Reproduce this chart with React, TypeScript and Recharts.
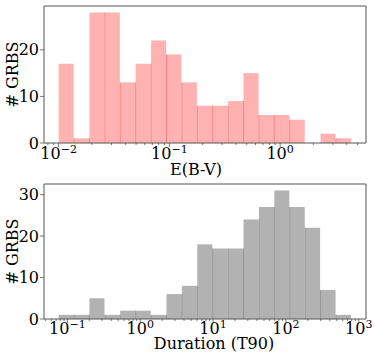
import { ComposedChart, Bar, XAxis, YAxis, Label, ReferenceLine } from "recharts";

// histogram bin edges (log spaced) and counts
const EBV_EDGES = [
  0.01, 0.0138, 0.019, 0.0262, 0.036, 0.0496, 0.0684, 0.0942, 0.13, 0.179,
  0.246, 0.339, 0.468, 0.644, 0.887, 1.22, 1.68, 2.32, 3.2, 4.4,
];
const EBV_COUNTS = [17, 1, 28, 28, 13, 17, 22, 19, 13, 8, 8, 9, 15, 6, 6, 5, 0, 2, 1];
const EBV_YTICKS = [0, 10, 20];

const T90_EDGES = [
  0.0759, 0.123, 0.201, 0.327, 0.532, 0.866, 1.41, 2.29, 3.73, 6.08, 9.89,
  16.1, 26.2, 42.6, 69.4, 113, 184, 299, 487, 792,
];
const T90_COUNTS = [1, 1, 5, 1, 2, 2, 1, 6, 8, 18, 17, 17, 24, 27, 31, 27, 22, 7, 1];
const T90_YTICKS = [0, 10, 20, 30];

const FONT = "DejaVu Serif";
const FRAME = "#555";
const W = 374;
const LEFT = 44;
const RIGHT = 8;
const PLOT_W = W - LEFT - RIGHT;

function LogTick(props: any) {
  const { x, y, payload, labelY } = props;
  const v = payload.value as number;
  const major = Math.abs(v - Math.round(v)) < 1e-6;
  const e = Math.round(v);
  return (
    <g>
      <line x1={x} x2={x} y1={y} y2={y + (major ? 4 : 2)} stroke={FRAME} strokeWidth={0.8} />
      {major && (
        <text x={x} y={y + labelY} textAnchor="middle" fontFamily={FONT} fontSize={16} fill="#000">
          10
          <tspan dy={-6} fontSize={11}>
            {e < 0 ? `\u2212${-e}` : `${e}`}
          </tspan>
        </text>
      )}
    </g>
  );
}

function BinShape(props: any) {
  const { x, y, width, height, payload, fill, divider } = props;
  if (!height || height <= 0) return <g />;
  const overlap = Math.min(payload.count, payload.prev);
  const dh = payload.count > 0 ? (height * overlap) / payload.count : 0;
  return (
    <g>
      <rect x={x} y={y} width={width} height={height} fill={fill} />
      {dh > 0 && (
        <line x1={x} x2={x} y1={y + height - dh} y2={y + height} stroke={divider} strokeWidth={1} />
      )}
    </g>
  );
}

function Hist({
  edges,
  counts,
  yTicks,
  fill,
  divider,
  xLabel,
  height,
  top,
  axisH,
  tickDy,
  labelDy,
  labelX,
}: any) {
  const rows = counts.map((c: number, i: number) => ({
    bin: i,
    count: c,
    prev: i > 0 ? counts[i - 1] : 0,
    logMid: (Math.log10(edges[i]) + Math.log10(edges[i + 1] ?? edges[i])) / 2,
  }));
  const lo = Math.log10(edges[0]);
  const hi = Math.log10(edges[edges.length - 1]);
  const pad = (hi - lo) * 0.05;
  const dLo = lo - pad;
  const dHi = hi + pad;
  const ticks: number[] = [];
  for (let n = Math.floor(dLo); n <= Math.ceil(dHi); n++) {
    for (let k = 1; k <= 9; k++) {
      const t = n + Math.log10(k);
      if (t >= dLo && t <= dHi) ticks.push(t);
    }
  }
  const binPad = (PLOT_W * 0.05) / 1.1;
  const yMax = Math.max(...counts) * 1.05;
  const plotH = height - top - axisH;

  return (
    <ComposedChart
      width={W}
      height={height}
      data={rows}
      margin={{ top, right: RIGHT, bottom: 0, left: 0 }}
      barCategoryGap={0}
      barGap={0}
    >
      <XAxis
        xAxisId="log"
        dataKey="logMid"
        type="number"
        domain={[dLo, dHi]}
        allowDataOverflow
        ticks={ticks}
        interval={0}
        tick={<LogTick labelY={tickDy} />}
        tickLine={false}
        tickSize={0}
        tickMargin={0}
        height={axisH}
        axisLine={{ stroke: FRAME, strokeWidth: 1 }}
      >
        <Label
          content={() => (
            <text
              x={labelX}
              y={top + plotH + labelDy}
              textAnchor="middle"
              fontFamily={FONT}
              fontSize={16}
              fill="#000"
            >
              {xLabel}
            </text>
          )}
        />
      </XAxis>
      <XAxis
        xAxisId="bins"
        dataKey="bin"
        type="category"
        hide
        height={0}
        padding={{ left: binPad, right: binPad }}
      />
      <YAxis
        yAxisId="y"
        type="number"
        domain={[0, yMax]}
        allowDataOverflow
        ticks={yTicks}
        width={LEFT}
        tickSize={4}
        tickMargin={1}
        tickLine={{ stroke: FRAME, strokeWidth: 0.8 }}
        axisLine={{ stroke: FRAME, strokeWidth: 1 }}
        tick={{ fontFamily: FONT, fontSize: 16, fill: "#000" }}
      >
        <Label
          content={() => {
            const cx = 18;
            const cy = top + plotH / 2;
            return (
              <text
                x={cx}
                y={cy}
                transform={`rotate(-90, ${cx}, ${cy})`}
                textAnchor="middle"
                fontFamily={FONT}
                fontSize={16}
                fill="#000"
              >
                # GRBS
              </text>
            );
          }}
        />
      </YAxis>
      <Bar
        xAxisId="bins"
        yAxisId="y"
        dataKey="count"
        fill={fill}
        shape={(p: any) => <BinShape {...p} fill={fill} divider={divider} />}
        isAnimationActive={false}
      />
      {/* top and right spines */}
      <ReferenceLine xAxisId="log" yAxisId="y" y={yMax} stroke={FRAME} strokeWidth={1} />
      <ReferenceLine xAxisId="log" yAxisId="y" x={dHi} stroke={FRAME} strokeWidth={1} />
    </ComposedChart>
  );
}

export default function App() {
  return (
    <div style={{ position: "absolute", left: 0, top: 0, width: W, height: 355 }}>
      <div style={{ position: "absolute", left: 0, top: 0 }}>
        <Hist
          edges={EBV_EDGES}
          counts={EBV_COUNTS}
          yTicks={EBV_YTICKS}
          fill="#ffb2b2"
          divider="#ff8080"
          xLabel="E(B-V)"
          height={178}
          top={6}
          axisH={35}
          tickDy={16}
          labelDy={32}
          labelX={196}
        />
      </div>
      <div style={{ position: "absolute", left: 0, top: 178 }}>
        <Hist
          edges={T90_EDGES}
          counts={T90_COUNTS}
          yTicks={T90_YTICKS}
          fill="#b2b2b2"
          divider="#959595"
          xLabel="Duration (T90)"
          height={177}
          top={6}
          axisH={36}
          tickDy={15}
          labelDy={30}
          labelX={214}
        />
      </div>
    </div>
  );
}
